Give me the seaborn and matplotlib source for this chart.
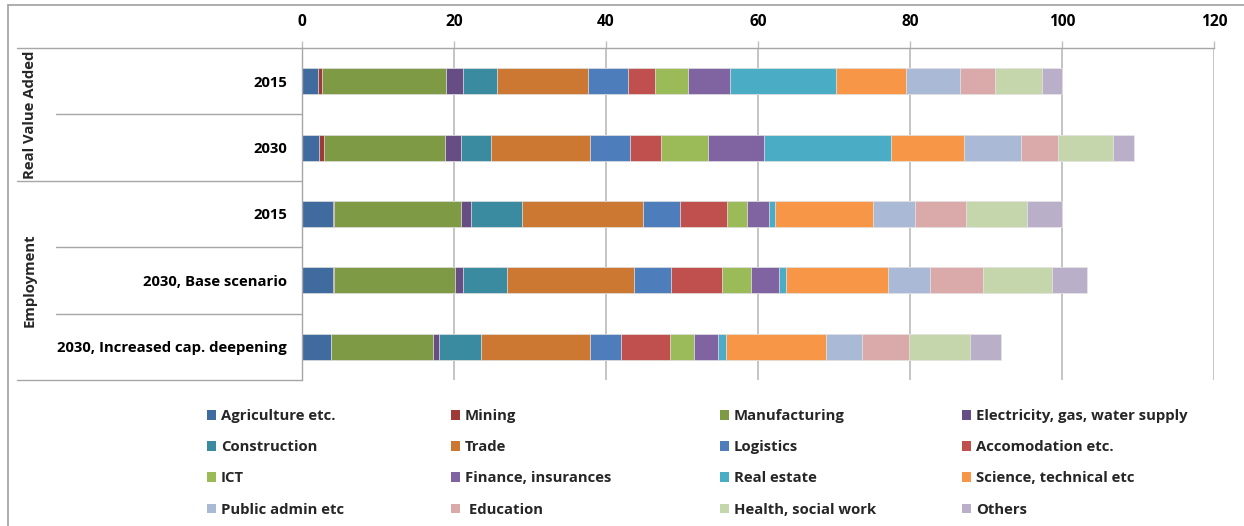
import numpy as np
import pandas as pd
import matplotlib
matplotlib.use("Agg")
import matplotlib.pyplot as plt
from matplotlib.lines import Line2D
from matplotlib.patches import Patch
import seaborn as sns

sns.set_style("white")
plt.rcParams["font.family"] = ["Open Sans", "DejaVu Sans"]
plt.rcParams["font.weight"] = "bold"

# Sectors (stacking order) and their colours
sectors = [
    "Agriculture etc.", "Mining", "Manufacturing", "Electricity, gas, water supply",
    "Construction", "Trade", "Logistics", "Accomodation etc.",
    "ICT", "Finance, insurances", "Real estate", "Science, technical etc",
    "Public admin etc", " Education", "Health, social work", "Others",
]
colors = [
    "#3F6B9F", "#9E3B38", "#7F9A45", "#664D84",
    "#3A8BA0", "#CC7832", "#4D7EBB", "#C0504D",
    "#9BBB59", "#8064A2", "#4BACC6", "#F79646",
    "#AAB9D6", "#D9AAA9", "#C6D6AC", "#B9AFC9",
]

# Row labels and the group each row belongs to
row_labels = ["2015", "2030", "2015", "2030, Base scenario", "2030, Increased cap. deepening"]
row_groups = ["Real Value Added", "Real Value Added", "Employment", "Employment", "Employment"]
groups = ["Real Value Added", "Employment"]

# Shares per sector (index 2015 = 100)
rva_2015 = [2.05, 0.62, 16.28, 2.18, 4.53, 12.01, 5.17, 3.65, 4.25, 5.53, 13.94, 9.26, 7.15, 4.51, 6.28, 2.59]
rva_2030 = [2.18, 0.66, 15.98, 2.05, 3.95, 13.11, 5.27, 3.99, 6.27, 7.37, 16.62, 9.60, 7.56, 4.90, 7.20, 2.76]
emp_2015 = [4.03, 0.18, 16.71, 1.26, 6.77, 15.87, 4.87, 6.23, 2.63, 2.90, 0.79, 12.84, 5.53, 6.71, 8.11, 4.57]
emp_2030_base = [4.03, 0.18, 15.87, 1.05, 5.84, 16.71, 4.82, 6.80, 3.73, 3.68, 0.92, 13.42, 5.53, 6.97, 9.13, 4.61]
emp_2030_capdeep = [3.76, 0.10, 13.38, 0.73, 5.53, 14.34, 4.08, 6.54, 3.16, 3.16, 0.96, 13.16, 4.78, 6.23, 8.02, 3.99]

row_keys = [f"{g} | {r}" for g, r in zip(row_groups, row_labels)]
values = pd.DataFrame(
    [rva_2015, rva_2030, emp_2015, emp_2030_base, emp_2030_capdeep],
    index=row_keys, columns=sectors,
)
cumulative = values.cumsum(axis=1)

W, H = 1244, 526
fig = plt.figure(figsize=(W / 100, H / 100), dpi=100)
fig.patch.set_facecolor("white")


def fx(px):
    return px / W


def fy(py):
    return 1 - py / H


left, right, top, bottom = 302, 1214, 48, 380
ax = fig.add_axes([fx(left), fy(bottom), fx(right) - fx(left), fy(top) - fy(bottom)])

# Stacked bars: draw cumulative totals from the largest down so each
# sector shows as the visible slice between neighbouring totals
for i in range(len(sectors) - 1, -1, -1):
    long = pd.DataFrame({"row": row_keys, "total": cumulative.iloc[:, i].values})
    sns.barplot(
        data=long, x="total", y="row", orient="h",
        color=colors[i], saturation=1, width=0.39,
        edgecolor="#E8E8E8", linewidth=0.5, ax=ax,
    )

grid_grey = "#BFBFBF"
axis_grey = "#A6A6A6"
fs = 10.7
ax.set_xlim(0, 120)
ax.set_xticks(np.arange(0, 121, 20))
ax.xaxis.tick_top()
ax.set_xlabel("")
ax.set_ylabel("")
ax.set_yticks(range(len(row_labels)))
ax.set_yticklabels(row_labels)
ax.set_axisbelow(True)
ax.grid(axis="x", color=grid_grey, linewidth=1.3)
ax.grid(axis="y", visible=False)
ax.tick_params(axis="x", top=True, length=5, width=1.0, color=grid_grey, pad=8,
               labelsize=fs + 0.5, labelcolor="black")
ax.tick_params(axis="y", length=0, pad=11, labelsize=fs, labelcolor="black")
for lbl in ax.get_xticklabels() + ax.get_yticklabels():
    lbl.set_fontweight("bold")
for side in ["right", "bottom"]:
    ax.spines[side].set_visible(False)
ax.spines["top"].set_color(axis_grey)
ax.spines["left"].set_color(axis_grey)
ax.spines["top"].set_linewidth(1.0)
ax.spines["left"].set_linewidth(1.0)

# Multi-level category separators to the left of the axis
row_h = (bottom - top) / len(row_labels)
seps = [(top, 17), (top + row_h, 56), (top + 2 * row_h, 17),
        (top + 3 * row_h, 56), (top + 4 * row_h, 56), (bottom, 17)]
for y, x0 in seps:
    fig.add_artist(Line2D([fx(x0), fx(left)], [fy(y), fy(y)], color=axis_grey, lw=1.0))

# Group labels
fig.text(fx(30), fy(top + row_h), groups[0], rotation=90, ha="center", va="center",
         fontsize=fs, fontweight="bold")
fig.text(fx(30), fy(top + 3.5 * row_h), groups[1], rotation=90, ha="center", va="center",
         fontsize=fs, fontweight="bold")

# Outer chart frame
fig.add_artist(Line2D([fx(8), fx(8)], [fy(5), 0], color="#A0A0A0", lw=1.2))
fig.add_artist(Line2D([fx(8), 1], [fy(5), fy(5)], color="#A0A0A0", lw=1.2))

# Legend: four columns, filled row by row
col_x = [207, 451, 720, 962]
for c in range(4):
    idx = [c, c + 4, c + 8, c + 12]
    handles = [Patch(facecolor=colors[k], edgecolor="none") for k in idx]
    labels = [sectors[k] for k in idx]
    fig.legend(
        handles, labels, loc="upper left", bbox_to_anchor=(fx(col_x[c]), fy(409)),
        frameon=False, handlelength=0.62, handleheight=0.62,
        handletextpad=0.3, labelspacing=1.16, borderaxespad=0, borderpad=0,
        prop={"weight": "bold", "size": fs},
    )

fig.savefig("out.png", dpi=100, facecolor="white")
